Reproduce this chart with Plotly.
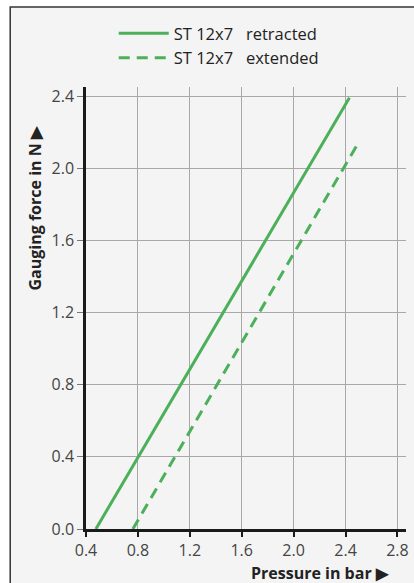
import plotly.graph_objects as go

# Data
series_names = ["ST 12x7\u00a0\u00a0\u00a0retracted", "ST 12x7\u00a0\u00a0\u00a0extended"]
retracted_pressure = [0.476, 2.43]
retracted_force = [0.0, 2.39]
extended_pressure = [0.761, 2.49]
extended_force = [0.0, 2.13]
x_ticks = [0.4, 0.8, 1.2, 1.6, 2.0, 2.4, 2.8]
y_ticks = [0.0, 0.4, 0.8, 1.2, 1.6, 2.0, 2.4]

GREEN = "#4caf5a"
FONT = "Open Sans"

W, H = 414, 583
L, R, T, B = 86, 5, 87, 54
pw = W - L - R
ph = H - T - B

def px_x(p):
    return (p - L) / pw

def px_y(p):
    return (H - B - p) / ph

fig = go.Figure()
fig.add_trace(go.Scatter(x=retracted_pressure, y=retracted_force, mode="lines",
                         name=series_names[0], line=dict(color=GREEN, width=3)))
fig.add_trace(go.Scatter(x=extended_pressure, y=extended_force, mode="lines",
                         name=series_names[1], line=dict(color=GREEN, width=3, dash="11px,7px")))

fig.update_layout(
    width=W, height=H,
    margin=dict(l=L, r=R, t=T, b=B, pad=0),
    paper_bgcolor="white",
    plot_bgcolor="rgba(0,0,0,0)",
    font=dict(family=FONT, color="#333333"),
    showlegend=True,
    legend=dict(x=px_x(114), y=px_y(16), xanchor="left", yanchor="top",
                bgcolor="rgba(0,0,0,0)", font=dict(size=16.5, color="#222222"),
                itemwidth=50, tracegroupgap=0),
    xaxis=dict(range=[0.4, 2.866], tickvals=x_ticks, ticktext=[f"{v:.1f}" for v in x_ticks],
               showgrid=True, gridcolor="#a8a8a8", gridwidth=1,
               showline=True, linecolor="#1a1a1a", linewidth=2.5,
               ticks="outside", ticklen=5, tickwidth=2, tickcolor="#1a1a1a",
               tickfont=dict(size=16, color="#444444"), zeroline=False, fixedrange=True),
    yaxis=dict(range=[0, 2.45], tickvals=y_ticks, ticktext=[f"{v:.1f}" for v in y_ticks],
               showgrid=True, gridcolor="#a8a8a8", gridwidth=1,
               showline=True, linecolor="#1a1a1a", linewidth=2.5,
               ticks="outside", ticklen=6, tickwidth=1, tickcolor="#777777",
               tickfont=dict(size=16, color="#444444"), zeroline=False, fixedrange=True),
    shapes=[dict(type="rect", xref="paper", yref="paper", layer="below",
                 x0=px_x(9.5), x1=px_x(440), y0=px_y(620), y1=px_y(7),
                 fillcolor="#f4f4f4", line=dict(color="#333333", width=1.5))],
    annotations=[
        dict(text="<b>Pressure in bar \u25b6</b>", xref="paper", yref="paper",
             x=px_x(394), y=px_y(573), xanchor="right", yanchor="middle",
             showarrow=False, font=dict(size=16, color="#222222", family=FONT)),
        dict(text="<b>Gauging force in N \u25b6</b>", xref="paper", yref="paper",
             x=px_x(35), y=px_y(208), xanchor="center", yanchor="middle",
             textangle=-90, showarrow=False, font=dict(size=16, color="#222222", family=FONT)),
    ],
)

fig.write_html("out.html", config={"displayModeBar": False},
               post_script="document.body.style.margin='0';document.body.style.overflow='hidden';")
